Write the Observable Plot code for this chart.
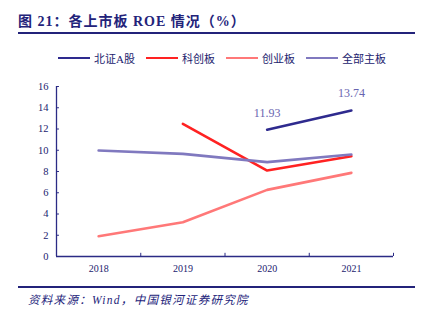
<!DOCTYPE html>
<html><head><meta charset="utf-8">
<script src="https://cdn.jsdelivr.net/npm/d3@7"></script>
<script src="https://cdn.jsdelivr.net/npm/@observablehq/plot@0.6"></script>
<style>
body{margin:0;background:#fff;}
#wrap{position:relative;width:423px;height:321px;overflow:hidden;font-family:"Liberation Serif","Noto Sans CJK SC",serif;color:#22226e;}
#title{position:absolute;left:18px;top:10px;font-size:14px;font-weight:bold;color:#23237a;letter-spacing:1px;}
.hr{position:absolute;left:18px;width:397px;height:1.5px;background:#23237a;}
#legend{position:absolute;top:50px;left:0;width:423px;height:14px;font-size:11px;}
.li{position:absolute;top:0;display:flex;align-items:center;white-space:nowrap;}
.sw{display:inline-block;width:32px;height:2.5px;margin-right:4px;}
#cap{position:absolute;left:28px;top:291px;font-size:11.5px;font-style:italic;color:#23237a;letter-spacing:1.3px;}
#chart{position:absolute;left:0;top:0;}
</style></head>
<body><div id="wrap">
<div id="title">图 21：各上市板 ROE 情况（%）</div>
<div class="hr" style="top:32px"></div>
<div id="legend"></div>
<div id="chart"></div>
<div class="hr" style="top:286px"></div>
<div id="cap">资料来源：Wind，中国银河证券研究院</div>
</div>
<script>
const years = [2018, 2019, 2020, 2021];
const seriesNames = ["北证A股", "科创板", "创业板", "全部主板"];
const colors = ["#2e2a8e", "#ff2222", "#ff7878", "#8079bf"];
const bzA = [null, null, 11.93, 13.74];
const kcb = [null, 12.49, 8.09, 9.44];
const cyb = [1.91, 3.23, 6.27, 7.87];
const zb = [9.98, 9.66, 8.88, 9.60];
const yTicks = [0, 2, 4, 6, 8, 10, 12, 14, 16];
const boundaries = [2018.5, 2019.5, 2020.5, 2021.5];
const labelValues = [{year: 2020, v: 11.93}, {year: 2021, v: 13.74}];

const allValues = [bzA, kcb, cyb, zb];
const rows = [];
allValues.forEach((arr, i) => arr.forEach((v, j) => { if (v != null) rows.push({s: seriesNames[i], year: years[j], v}); }));

// legend
const lg = document.getElementById("legend");
const lx = [58, 146, 226, 306];
seriesNames.forEach((n, i) => {
  const d = document.createElement("div");
  d.className = "li"; d.style.left = lx[i] + "px";
  d.innerHTML = `<span class="sw" style="background:${colors[i]}"></span><span>${n}</span>`;
  lg.appendChild(d);
});

const navy = "#2b2b85";
const txt = "#22226e";
const xmin = 2017.5, xmax = 2021.5;
const chart = Plot.plot({
  width: 423, height: 321,
  marginLeft: 56, marginRight: 30, marginTop: 86, marginBottom: 65,
  style: {fontFamily: "Liberation Serif, serif", fontSize: "10px", color: txt, background: "transparent"},
  x: {domain: [xmin, xmax], axis: null},
  y: {domain: [0, 16], axis: null},
  color: {domain: seriesNames, range: colors},
  marks: [
    Plot.line(rows, {x: "year", y: "v", z: "s", stroke: "s", strokeWidth: 2.6}),
    Plot.ruleY([0], {stroke: navy, strokeWidth: 1.3}),
    Plot.ruleX([xmin], {y1: 0, y2: 16, stroke: navy, strokeWidth: 1.3}),
    Plot.ruleY(yTicks, {y: d => d, x1: xmin, x2: xmin + 0.035, stroke: navy}),
    Plot.ruleX(boundaries, {x: d => d, y1: 0, y2: 0.3, stroke: navy}),
    Plot.text(yTicks, {x: xmin, y: d => d, text: d => String(d), textAnchor: "end", dx: -8, fill: txt, fontSize: 10.5}),
    Plot.text(years, {x: d => d, y: 0, text: d => String(d), dy: 12, fill: txt, fontSize: 10}),
    Plot.text(labelValues, {x: "year", y: "v", text: d => d.v.toFixed(2), dy: -17, fill: "#6864b0", fontSize: 12})
  ]
});
document.getElementById("chart").appendChild(chart);
</script>
</body></html>
